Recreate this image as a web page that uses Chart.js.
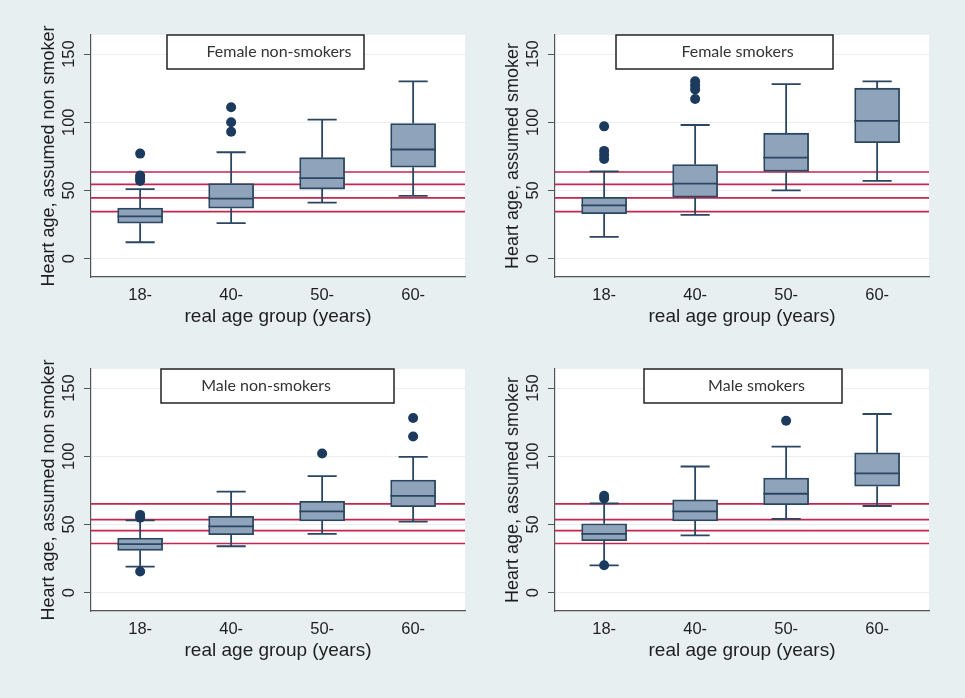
<!DOCTYPE html>
<html>
<head>
<meta charset="utf-8">
<script src="https://cdn.jsdelivr.net/npm/chart.js@4.4.1/dist/chart.umd.min.js"></script>
<style>
  html, body { margin: 0; padding: 0; }
  body { width: 965px; height: 698px; background: #e8eff1; position: relative; overflow: hidden; }
  canvas { position: absolute; }
</style>
</head>
<body>
<canvas id="fns" width="482" height="349" style="left:0;top:0"></canvas>
<canvas id="fs" width="482" height="349" style="left:464px;top:0"></canvas>
<canvas id="mns" width="482" height="349" style="left:0;top:334px"></canvas>
<canvas id="ms" width="482" height="349" style="left:464px;top:334px"></canvas>
<script>
const groups = ['18-', '40-', '50-', '60-'];
const yTicks = [0, 50, 100, 150];

// reference lines (red)
const femaleLines = [34.5, 44.5, 54.5, 63.5];
const maleLines = [36, 45.5, 53.5, 65];

// Female non-smokers
const fnsLow = [12, 26, 41, 46];
const fnsQ1 = [26, 37, 51, 67];
const fnsMed = [31, 44, 59, 80];
const fnsQ3 = [37, 55, 74, 99];
const fnsHigh = [51, 78, 102, 130];
const fnsOut = [[57, 59, 61, 77], [93, 100, 111], [], []];

// Female smokers
const fsLow = [16, 32, 50, 57];
const fsQ1 = [33, 45, 64, 85];
const fsMed = [39, 55, 74, 101];
const fsQ3 = [45, 69, 92, 125];
const fsHigh = [64, 98, 128, 130];
const fsOut = [[73, 76, 79, 97], [117, 124, 127, 130], [], []];

// Male non-smokers
const mnsLow = [19, 34, 43, 52];
const mnsQ1 = [31, 42.5, 52.5, 63];
const mnsMed = [35.5, 48.5, 59.5, 71];
const mnsQ3 = [40, 56, 67, 82.5];
const mnsHigh = [53, 74, 85.5, 99.5];
const mnsOut = [[15.5, 55, 57], [], [102], [114.5, 128]];

// Male smokers
const msLow = [20, 42, 54, 63.5];
const msQ1 = [38, 52.5, 64.5, 78];
const msMed = [43, 59.5, 72.5, 87.5];
const msQ3 = [50.5, 68, 84, 102.5];
const msHigh = [65.5, 92.5, 107, 131];
const msOut = [[20, 69, 71], [], [126], []];

const X_MIN = 0.46, X_MAX = 4.57;
const DARK = '#2b4660';

function segs(pairs) {
  // pairs of [x0,y0,x1,y1] -> line points with gaps
  const pts = [];
  pairs.forEach(p => pts.push({x: p[0], y: p[1]}, {x: p[2], y: p[3]}, {x: p[2], y: null}));
  return pts;
}

function lineDs(data, color, width, order) {
  return {type: 'line', data, borderColor: color, borderWidth: width,
    pointRadius: 0, pointHoverRadius: 0, spanGaps: false, order};
}

function buildDatasets(low, q1, med, q3, high, out, lines) {
  const cap = 0.16, half = 0.25;
  return [
    lineDs(segs(lines.map(v => [X_MIN, v, X_MAX, v])), '#c4264f', 1.7, 6),
    {type: 'bar', data: groups.map((g, i) => ({x: i + 1, y: [q1[i], q3[i]]})),
      backgroundColor: '#8fa3bb', borderColor: DARK, borderWidth: 1.8,
      borderSkipped: false, barThickness: 45, order: 5},
    lineDs(segs(groups.flatMap((g, i) => [[i + 1, low[i], i + 1, q1[i]], [i + 1, q3[i], i + 1, high[i]]])), DARK, 1.8, 4),
    lineDs(segs(groups.flatMap((g, i) => [[i + 1 - cap, low[i], i + 1 + cap, low[i]], [i + 1 - cap, high[i], i + 1 + cap, high[i]]])), DARK, 1.8, 3),
    lineDs(segs(groups.map((g, i) => [i + 1 - half, med[i], i + 1 + half, med[i]])), DARK, 1.8, 2),
    {type: 'scatter', data: groups.flatMap((g, i) => out[i].map(v => ({x: i + 1, y: v}))),
      pointRadius: 5, pointHoverRadius: 5, backgroundColor: '#1b3a5e', borderWidth: 0, order: 1}
  ];
}

const plotBg = {
  id: 'plotBg',
  beforeDraw(chart) {
    const {ctx, chartArea: a} = chart;
    ctx.save();
    ctx.fillStyle = '#ffffff';
    ctx.fillRect(a.left, a.top, a.right - a.left, a.bottom - a.top);
    ctx.restore();
  }
};

const rotatedYTicks = {
  id: 'rotatedYTicks',
  afterDraw(chart) {
    const {ctx, chartArea: a, scales: {y}} = chart;
    ctx.save();
    ctx.font = '16.5px "Liberation Sans", Arial, sans-serif';
    ctx.fillStyle = '#1e1e1e';
    ctx.textAlign = 'center';
    ctx.textBaseline = 'middle';
    yTicks.forEach(v => {
      ctx.save();
      ctx.translate(a.left - 22, y.getPixelForValue(v));
      ctx.rotate(-Math.PI / 2);
      ctx.fillText(String(v), 0, 0);
      ctx.restore();
    });
    ctx.restore();
  }
};

const titleBox = {
  id: 'titleBox',
  afterDraw(chart, args, opts) {
    const {ctx} = chart;
    const [x, y, w, h] = opts.box;
    ctx.save();
    ctx.fillStyle = '#fff';
    ctx.fillRect(x, y, w, h);
    ctx.strokeStyle = '#222';
    ctx.lineWidth = 1.5;
    ctx.strokeRect(x, y, w, h);
    ctx.font = '16px Lato, "Open Sans", sans-serif';
    ctx.fillStyle = '#333';
    ctx.textAlign = 'center';
    ctx.textBaseline = 'middle';
    ctx.fillText(opts.text, opts.textX, y + h / 2);
    ctx.restore();
  }
};

function makePanel(id, title, box, textX, yTitle, datasets) {
  new Chart(document.getElementById(id), {
    type: 'bar',
    data: {datasets},
    options: {
      responsive: false,
      animation: false,
      events: [],
      layout: {padding: {top: 35, right: 17, left: 0, bottom: 0}},
      plugins: {
        legend: {display: false},
        tooltip: {enabled: false},
        titleBox: {text: title, box, textX}
      },
      scales: {
        x: {
          type: 'linear', min: X_MIN, max: X_MAX, offset: false,
          afterBuildTicks: s => { s.ticks = groups.map((g, i) => ({value: i + 1})); },
          afterFit: s => { s.height = 72; },
          grid: {display: false, drawTicks: false, offset: false},
          border: {display: true, color: '#555', width: 1.2},
          ticks: {
            callback: v => groups[v - 1] || '',
            font: {family: '"Liberation Sans", Arial, sans-serif', size: 16.5},
            color: '#1e1e1e', padding: 9, maxRotation: 0, autoSkip: false
          },
          title: {
            display: true, text: 'real age group (years)', color: '#1e1e1e',
            font: {family: '"Liberation Sans", Arial, sans-serif', size: 19},
            padding: {top: 0, bottom: 21}
          }
        },
        y: {
          type: 'linear', min: -13.5, max: 164,
          afterBuildTicks: s => { s.ticks = yTicks.map(v => ({value: v})); },
          afterFit: s => { s.width = 91; },
          grid: {color: '#eceff1', lineWidth: 1, tickColor: '#555', tickLength: 7, drawTicks: true},
          border: {display: true, color: '#555', width: 1.2},
          ticks: {display: false},
          title: {
            display: true, text: yTitle, color: '#1e1e1e',
            font: {family: '"Liberation Sans", Arial, sans-serif', size: 18},
            padding: {top: 38, bottom: 0}
          }
        }
      }
    },
    plugins: [plotBg, rotatedYTicks, titleBox]
  });
}

makePanel('fns', 'Female non-smokers', [167, 35, 197, 34], 279,
  'Heart age, assumed non smoker',
  buildDatasets(fnsLow, fnsQ1, fnsMed, fnsQ3, fnsHigh, fnsOut, femaleLines));
makePanel('fs', 'Female smokers', [152, 35, 217, 34], 273.5,
  'Heart age, assumed smoker',
  buildDatasets(fsLow, fsQ1, fsMed, fsQ3, fsHigh, fsOut, femaleLines));
makePanel('mns', 'Male non-smokers', [161, 35, 233, 34], 266,
  'Heart age, assumed non smoker',
  buildDatasets(mnsLow, mnsQ1, mnsMed, mnsQ3, mnsHigh, mnsOut, maleLines));
makePanel('ms', 'Male smokers', [180, 35, 198, 34], 292.5,
  'Heart age, assumed smoker',
  buildDatasets(msLow, msQ1, msMed, msQ3, msHigh, msOut, maleLines));
</script>
</body>
</html>
